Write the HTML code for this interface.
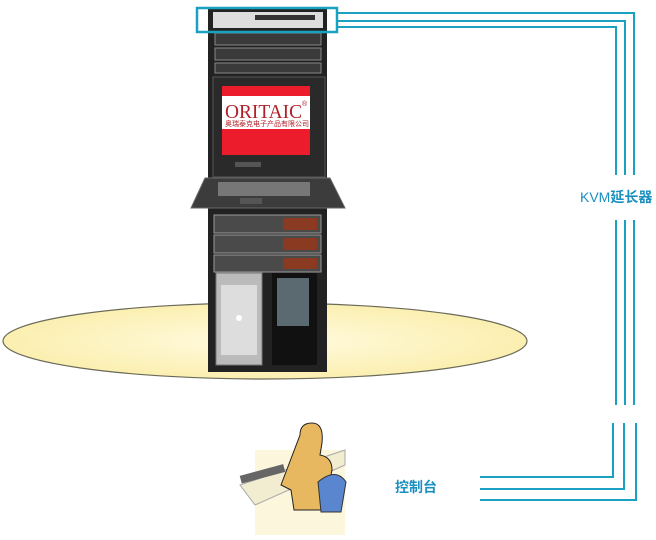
<!DOCTYPE html>
<html><head><meta charset="utf-8"><style>
body{margin:0;background:#fff;}
svg{display:block;}
</style></head><body>
<svg width="656" height="540" viewBox="0 0 656 540" xmlns="http://www.w3.org/2000/svg">
<defs>
<radialGradient id="fl" cx="0.5" cy="0.5" r="0.5"><stop offset="0" stop-color="#fffbe0"/><stop offset="1" stop-color="#fbefb0"/></radialGradient>
</defs>
<ellipse cx="265" cy="341" rx="262" ry="38" fill="url(#fl)" stroke="#6a6a5a" stroke-width="1.2"/>
<g stroke="#1aa0c0" stroke-width="2" fill="none">
<polyline points="337,13 634,13 634,175"/>
<polyline points="337,21 625,21 625,175"/>
<polyline points="337,27 616,27 616,175"/>
<line x1="634" y1="220" x2="634" y2="405"/>
<line x1="625" y1="220" x2="625" y2="405"/>
<line x1="616" y1="220" x2="616" y2="405"/>
<polyline points="480,477 613,477 613,423"/>
<polyline points="480,489 624,489 624,423"/>
<polyline points="480,500 636,500 636,423"/>
</g>
<rect x="208" y="9" width="119" height="363" fill="#222"/>
<rect x="213" y="12" width="110" height="16" fill="#ddd"/>
<rect x="255" y="15" width="60" height="5" fill="#333"/>
<rect x="215" y="33" width="106" height="12" fill="#3a3a3a" stroke="#888"/>
<rect x="215" y="48" width="106" height="12" fill="#3a3a3a" stroke="#888"/>
<rect x="215" y="63" width="106" height="10" fill="#3a3a3a" stroke="#888"/>
<rect x="213" y="77" width="112" height="100" fill="#2a2a2a" stroke="#555"/>
<rect x="222" y="86" width="88" height="69" fill="#ec1c2c"/>
<rect x="222" y="96" width="88" height="33" fill="#fff"/>
<text x="225" y="118" font-family="Liberation Serif,serif" font-size="20" fill="#b0202a" textLength="77" lengthAdjust="spacingAndGlyphs">ORITAIC</text>
<text x="302" y="106" font-family="Liberation Sans,sans-serif" font-size="7" fill="#b0202a">®</text>
<text x="225" y="126" font-family="Liberation Sans,'Noto Sans CJK SC',sans-serif" font-size="7" fill="#b0202a">奥瑞泰克电子产品有限公司</text>
<rect x="235" y="162" width="26" height="5" fill="#555"/>
<polygon points="205,178 330,178 345,208 191,208" fill="#3c3c3c" stroke="#666"/>
<rect x="218" y="182" width="92" height="14" fill="#777"/>
<rect x="240" y="198" width="22" height="6" fill="#555"/>
<g fill="#4a4a4a" stroke="#999">
<rect x="214" y="215" width="107" height="18"/>
<rect x="214" y="235" width="107" height="18"/>
<rect x="214" y="255" width="107" height="17"/>
</g>
<g fill="#8a3a20"><rect x="283" y="218" width="34" height="12"/><rect x="283" y="238" width="34" height="12"/><rect x="283" y="258" width="34" height="11"/></g>
<rect x="216" y="273" width="46" height="92" fill="#bbb" stroke="#777"/>
<rect x="221" y="285" width="36" height="70" fill="#ddd"/>
<circle cx="239" cy="318" r="3" fill="#fff"/>
<rect x="272" y="273" width="45" height="92" fill="#111"/>
<rect x="277" y="278" width="32" height="48" fill="#5a6a70"/>
<rect x="197" y="8" width="140" height="24" fill="none" stroke="#1aa0c0" stroke-width="2.5"/>
<text x="580" y="202" font-family="Liberation Sans,'Noto Sans CJK SC',sans-serif" font-size="14" fill="#1a90c0">KVM<tspan font-weight="bold">延长器</tspan></text>
<text x="395" y="492" font-family="Liberation Sans,'Noto Sans CJK SC',sans-serif" font-size="14" font-weight="bold" fill="#1a90c0">控制台</text>
<rect x="255" y="450" width="90" height="85" fill="#fbf6dc"/>
<polygon points="240,485 345,450 345,465 255,505" fill="#f2ecd0" stroke="#aaa"/>
<path d="M300,435 q0,-12 12,-12 q12,0 10,20 l-2,12 q12,2 12,15 l-8,40 h-30 l-3,-20 l-10,-5 z" fill="#e8b860" stroke="#222"/>
<path d="M318,482 q18,-15 28,0 l-5,30 h-20 z" fill="#5a86d0" stroke="#333"/>
<rect x="240" y="470" width="45" height="8" fill="#666" transform="rotate(-15 262 474)"/>
</svg>
</body></html>
